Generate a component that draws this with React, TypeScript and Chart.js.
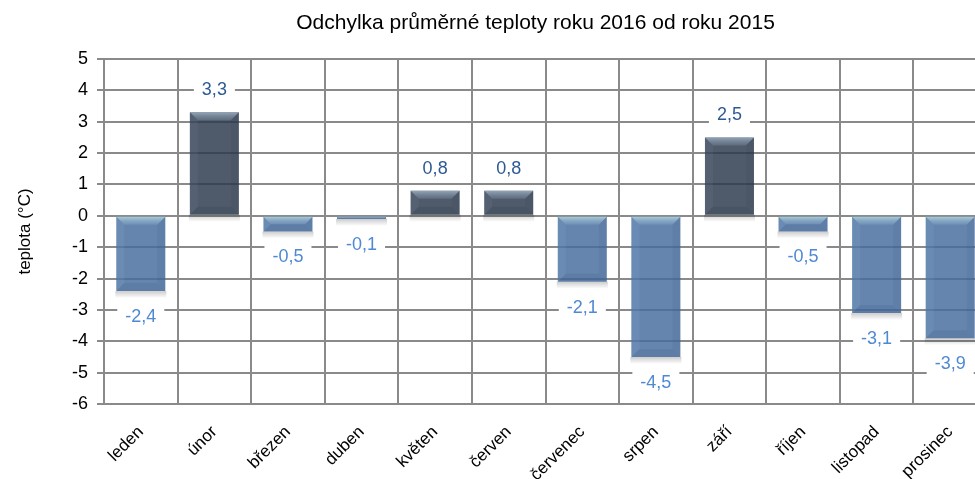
import React, { useEffect, useRef } from "react";
import { Chart, registerables } from "chart.js";
Chart.register(...registerables);

const categories = ["leden", "únor", "březen", "duben", "květen", "červen", "červenec", "srpen", "září", "říjen", "listopad", "prosinec"];
const values = [-2.4, 3.3, -0.5, -0.1, 0.8, 0.8, -2.1, -4.5, 2.5, -0.5, -3.1, -3.9];
const yMin = -6;
const yMax = 5;
const yStep = 1;
const titleText = "Odchylka průměrné teploty roku 2016 od roku 2015";
const yTitleText = "teplota (°C)";

const FONT = '"Liberation Sans", Arial, sans-serif';
const POS_FILL = "rgba(43,58,77,0.83)";
const NEG_FILL = "rgba(70,108,157,0.83)";
const POS_LABEL = "#2e5a93";
const NEG_LABEL = "#4f89d3";
const GRID = "#8a8a8a";

const fmt = (v: number) => String(v).replace(".", ",");

const titlePlugin = {
  id: "centeredTitle",
  afterDraw(chart: any) {
    const ctx = chart.ctx;
    ctx.save();
    ctx.font = `21px ${FONT}`;
    ctx.fillStyle = "#000";
    ctx.textAlign = "center";
    ctx.textBaseline = "middle";
    ctx.fillText(titleText, chart.width / 2, 23);
    ctx.restore();
  },
};

const bevelPlugin = {
  id: "bevel",
  beforeDatasetsDraw(chart: any) {
    const ctx = chart.ctx;
    const meta = chart.getDatasetMeta(0);
    ctx.save();
    meta.data.forEach((bar: any) => {
      const { x, y, base, width } = bar.getProps(["x", "y", "base", "width"], true);
      const left = x - width / 2;
      const bottom = Math.max(y, base);
      const g = ctx.createLinearGradient(0, bottom, 0, bottom + 7);
      g.addColorStop(0, "rgba(0,0,0,0.2)");
      g.addColorStop(1, "rgba(0,0,0,0)");
      ctx.fillStyle = g;
      ctx.fillRect(left - 1, bottom, width + 2, 7);
    });
    ctx.restore();
  },
  afterDatasetsDraw(chart: any) {
    const ctx = chart.ctx;
    const meta = chart.getDatasetMeta(0);
    ctx.save();
    meta.data.forEach((bar: any, i: number) => {
      const { x, y, base, width } = bar.getProps(["x", "y", "base", "width"], true);
      const left = x - width / 2;
      const right = x + width / 2;
      const top = Math.min(y, base);
      const bottom = Math.max(y, base);
      const h = bottom - top;
      const b = Math.min(8, h / 2);
      const pos = values[i] >= 0;
      ctx.beginPath();
      ctx.moveTo(left, top);
      ctx.lineTo(right, top);
      ctx.lineTo(right - b, top + b);
      ctx.lineTo(left + b, top + b);
      ctx.closePath();
      const g = ctx.createLinearGradient(0, top, 0, top + b);
      g.addColorStop(0, pos ? "rgba(160,178,196,0.85)" : "rgba(175,210,218,0.9)");
      g.addColorStop(1, pos ? "rgba(110,126,146,0.5)" : "rgba(130,160,195,0.4)");
      ctx.fillStyle = g;
      ctx.fill();
      ctx.beginPath();
      ctx.moveTo(left, top);
      ctx.lineTo(left + b, top + b);
      ctx.lineTo(left + b, bottom - b);
      ctx.lineTo(left, bottom);
      ctx.closePath();
      ctx.fillStyle = pos ? "rgba(120,135,155,0.15)" : "rgba(150,180,210,0.12)";
      ctx.fill();
      ctx.beginPath();
      ctx.moveTo(right, top);
      ctx.lineTo(right - b, top + b);
      ctx.lineTo(right - b, bottom - b);
      ctx.lineTo(right, bottom);
      ctx.closePath();
      ctx.fillStyle = pos ? "rgba(20,30,45,0.08)" : "rgba(30,60,100,0.07)";
      ctx.fill();
      ctx.beginPath();
      ctx.moveTo(left, bottom);
      ctx.lineTo(right, bottom);
      ctx.lineTo(right - b, bottom - b);
      ctx.lineTo(left + b, bottom - b);
      ctx.closePath();
      ctx.fillStyle = pos ? "rgba(20,30,45,0.12)" : "rgba(30,60,100,0.1)";
      ctx.fill();
    });
    ctx.restore();
  },
};

const labelPlugin = {
  id: "valueLabels",
  afterDatasetsDraw(chart: any) {
    const ctx = chart.ctx;
    const meta = chart.getDatasetMeta(0);
    ctx.save();
    ctx.font = `18px ${FONT}`;
    ctx.textAlign = "center";
    ctx.textBaseline = "middle";
    meta.data.forEach((bar: any, i: number) => {
      const v = values[i];
      const { x, y } = bar.getProps(["x", "y"], true);
      const cy = v >= 0 ? y - 23 : y + 25;
      const text = fmt(v);
      const w = ctx.measureText(text).width + 16;
      const h = 26;
      ctx.fillStyle = "#ffffff";
      ctx.fillRect(x - w / 2, cy - h / 2, w, h);
      ctx.fillStyle = v >= 0 ? POS_LABEL : NEG_LABEL;
      ctx.fillText(text, x, cy + 1);
    });
    ctx.restore();
  },
};

export default function App() {
  const ref = useRef<HTMLCanvasElement | null>(null);
  useEffect(() => {
    if (!ref.current) return;
    const chart = new Chart(ref.current, {
      type: "bar",
      data: {
        labels: categories,
        datasets: [
          {
            data: values,
            backgroundColor: values.map((v) => (v >= 0 ? POS_FILL : NEG_FILL)),
            borderWidth: 0,
            categoryPercentage: 1,
            barPercentage: 0.666,
          },
        ],
      },
      options: {
        responsive: false,
        animation: false,
        layout: { padding: { left: 0, right: 84, top: 59, bottom: 0 } },
        plugins: {
          legend: { display: false },
          tooltip: { enabled: false },
          title: { display: false },
        },
        scales: {
          x: {
            grid: { color: GRID, lineWidth: 2, drawTicks: false, offset: true },
            border: { color: GRID, width: 2 },
            ticks: {
              color: "#000",
              font: { family: FONT, size: 17 },
              minRotation: 45,
              maxRotation: 45,
              padding: 18,
              autoSkip: false,
            },
            afterFit: (s: any) => {
              s.height = 75;
            },
          },
          y: {
            min: yMin,
            max: yMax,
            grid: { color: GRID, lineWidth: 2, tickLength: 7 },
            border: { color: GRID, width: 2 },
            ticks: {
              stepSize: yStep,
              color: "#000",
              font: { family: FONT, size: 18 },
              padding: 9,
              callback: (v: any) => String(v),
            },
            title: {
              display: true,
              text: yTitleText,
              color: "#000",
              font: { family: FONT, size: 17 },
              padding: { top: 15, bottom: 0 },
            },
            afterFit: (s: any) => {
              s.width = 104;
            },
          },
        },
      },
      plugins: [bevelPlugin, labelPlugin, titlePlugin],
    });
    return () => chart.destroy();
  }, []);
  return (
    <div style={{ position: "fixed", left: 0, top: 0, width: 975, height: 479, overflow: "hidden", background: "#fff" }}>
      <canvas ref={ref} width={1071} height={479} style={{ display: "block" }} />
    </div>
  );
}
